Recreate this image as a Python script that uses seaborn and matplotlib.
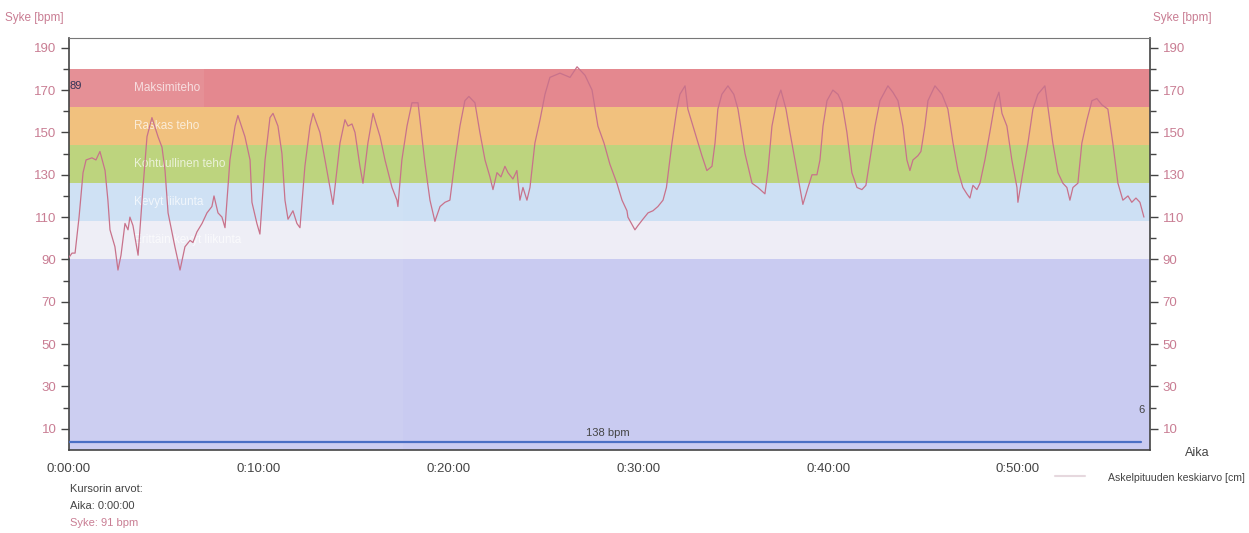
import numpy as np
import pandas as pd
import matplotlib
matplotlib.use("Agg")
import matplotlib.pyplot as plt
import matplotlib.ticker as mticker
from matplotlib.lines import Line2D
import seaborn as sns

# Sykekäyrä (aika minuutteina, syke bpm) luettu kuvasta
aika_min = [0.0, 0.16, 0.32, 0.53, 0.74, 0.9, 1.21, 1.42, 1.63, 1.9, 2.05, 2.16, 2.42, 2.58, 2.74,
            2.95, 3.11, 3.21, 3.37, 3.64, 3.9, 4.11, 4.37, 4.69, 4.9, 5.06, 5.22, 5.58, 5.85, 6.11,
            6.38, 6.53, 6.74, 7.01, 7.27, 7.53, 7.64, 7.85, 8.06, 8.22, 8.48, 8.75, 8.9, 9.27, 9.54,
            9.64, 9.9, 10.06, 10.33, 10.59, 10.75, 11.01, 11.22, 11.38, 11.54, 11.8, 12.01, 12.17,
            12.43, 12.7, 12.86, 13.22, 13.49, 13.75, 13.91, 14.28, 14.54, 14.7, 14.91, 15.07, 15.33,
            15.49, 15.75, 16.02, 16.39, 16.65, 17.02, 17.28, 17.33, 17.54, 17.81, 18.07, 18.39, 18.76,
            18.91, 19.02, 19.28, 19.55, 19.81, 20.07, 20.34, 20.6, 20.86, 21.07, 21.39, 21.65, 21.92,
            22.18, 22.34, 22.55, 22.76, 22.97, 23.13, 23.39, 23.6, 23.76, 23.92, 24.13, 24.29, 24.55,
            24.82, 25.08, 25.34, 25.87, 26.4, 26.77, 27.19, 27.56, 27.87, 28.19, 28.5, 28.87, 29.14,
            29.4, 29.45, 29.82, 29.98, 30.24, 30.51, 30.77, 31.03, 31.3, 31.48, 31.77, 32.03, 32.19,
            32.46, 32.61, 32.98, 33.35, 33.61, 33.88, 34.04, 34.19, 34.4, 34.72, 35.03, 35.25, 35.62,
            35.99, 36.3, 36.67, 36.83, 37.04, 37.3, 37.51, 37.78, 37.99, 38.25, 38.51, 38.67, 38.94,
            39.15, 39.41, 39.57, 39.73, 39.94, 40.25, 40.52, 40.73, 40.99, 41.25, 41.52, 41.78, 41.99,
            42.2, 42.47, 42.73, 43.15, 43.41, 43.68, 43.94, 44.15, 44.31, 44.47, 44.73, 44.89, 45.1,
            45.26, 45.63, 46.0, 46.31, 46.58, 46.84, 47.1, 47.31, 47.47, 47.63, 47.84, 48.0, 48.26,
            48.52, 48.79, 49.0, 49.16, 49.42, 49.68, 49.95, 50.0, 50.26, 50.53, 50.79, 51.05, 51.42,
            51.58, 51.84, 52.11, 52.37, 52.58, 52.74, 52.9, 53.16, 53.37, 53.64, 53.9, 54.16, 54.43,
            54.74, 55.0, 55.27, 55.53, 55.8, 56.0, 56.22, 56.43, 56.64]
syke = [91, 93, 93, 110, 131, 137, 138, 137, 141, 132, 118, 104, 96, 85, 92,
        107, 104, 110, 106, 92, 124, 148, 157, 148, 143, 132, 112, 96, 85, 96,
        99, 98, 103, 107, 112, 115, 120, 112, 110, 105, 137, 153, 158, 148, 137,
        117, 107, 102, 137, 157, 159, 153, 140, 118, 109, 113, 107, 105,
        134, 153, 159, 150, 137, 124, 116, 145, 156, 153, 154, 150, 134,
        126, 145, 159, 148, 137, 124, 118, 115, 137, 153, 164, 164, 135,
        125, 118, 108, 115, 117, 118, 137, 153, 165, 167, 164, 150, 137,
        129, 123, 131, 129, 134, 131, 128, 132, 118, 124, 118, 124, 145,
        156, 168, 176, 178, 176, 181, 177, 170, 153, 145, 135, 126, 118,
        113, 110, 104, 106, 109, 112, 113, 115, 118, 124, 145, 161, 168,
        172, 161, 150, 139, 132, 134, 145, 161, 168, 172, 168, 161, 140,
        126, 124, 121, 132, 153, 165, 170, 161, 150, 137, 124, 116, 124,
        130, 130, 137, 153, 165, 170, 168, 164, 150, 131, 124, 123, 125,
        137, 153, 165, 172, 169, 165, 153, 137, 132, 137, 139, 141, 153,
        165, 172, 168, 161, 145, 132, 124, 121, 119, 125, 123, 126, 137,
        150, 164, 169, 159, 153, 137, 124, 117, 131, 145, 161, 168, 172,
        162, 145, 131, 126, 124, 118, 124, 126, 145, 156, 165, 166, 163,
        161, 145, 126, 118, 120, 117, 119, 117, 110]

# Askelpituus (piirretty sykeasteikolla)
askel_aika = [0.0, 56.5]
askel_arvo = [3.8, 3.8]

# Sykealueet
alue_nimet = ["Erittäin kevyt liikunta", "Kevyt liikunta", "Kohtuullinen teho", "Raskas teho", "Maksimiteho"]
alue_rajat = [90, 108, 126, 144, 162, 180]
alue_varit = ["#eeedf6", "#cde0f4", "#bdd47e", "#f1c17e", "#e4888f"]

df = pd.DataFrame({"aika": aika_min, "syke": syke})
df_askel = pd.DataFrame({"aika": askel_aika, "arvo": askel_arvo})

sns.set_style("white")
plt.rcParams["font.family"] = ["Liberation Sans Narrow", "Liberation Sans", "DejaVu Sans"]

pink = "#c97d93"
dark = "#444444"

fig = plt.figure(figsize=(12.49, 5.33), dpi=100)
ax = fig.add_axes([69 / 1249, 1 - 450 / 533, (1150 - 69) / 1249, (450 - 38) / 533])

x_max = 56.96
ax.set_xlim(0, x_max)
ax.set_ylim(0, 194.6)

# taustavärit
ax.axhspan(0, alue_rajat[0], color="#c9cbf1", zorder=0, lw=0)
for i in range(len(alue_nimet)):
    ax.axhspan(alue_rajat[i], alue_rajat[i + 1], color=alue_varit[i], zorder=0, lw=0)
# vaaleampi alue vasemmalla
ax.fill_between([0, 17.6], 0, 126, color="white", alpha=0.06, lw=0, zorder=0.5)
ax.fill_between([0, 7.1], 162, 180, color="white", alpha=0.07, lw=0, zorder=0.5)

for i, nimi in enumerate(alue_nimet):
    yc = (alue_rajat[i] + alue_rajat[i + 1]) / 2
    ax.text(3.4, yc, nimi, color="white", alpha=0.7, fontsize=8.5, va="center", ha="left", zorder=1)

sns.lineplot(data=df, x="aika", y="syke", ax=ax, color="#c8728b", lw=0.9, zorder=3)
sns.lineplot(data=df_askel, x="aika", y="arvo", ax=ax, color="#4a6fc4", lw=1.6, zorder=3)

ax.text(28.4, 5.5, "138 bpm", fontsize=8, color=dark, ha="center", va="bottom")
ax.text(0.05, 172, "89", fontsize=8, color="#333355", ha="left", va="center")
ax.text(56.7, 19, "6", fontsize=8, color=dark, ha="right", va="center")

ax.set_xlabel("")
ax.set_ylabel("")

# x-akseli
def fmt_aika(x, pos):
    s = int(round(x * 60))
    return f"{s // 3600}:{(s % 3600) // 60:02d}:{s % 60:02d}"

ax.xaxis.set_major_locator(mticker.FixedLocator([0, 10, 20, 30, 40, 50]))
ax.xaxis.set_minor_locator(mticker.FixedLocator([5, 15, 25, 35, 45, 55]))
ax.xaxis.set_major_formatter(mticker.FuncFormatter(fmt_aika))
ax.yaxis.set_major_locator(mticker.FixedLocator(list(range(10, 191, 20))))
ax.yaxis.set_minor_locator(mticker.FixedLocator(list(range(20, 181, 20))))

ax.tick_params(axis="x", which="major", direction="out", length=6, width=1.2, color=dark,
               labelcolor=dark, labelsize=9.5, pad=3)
ax.tick_params(axis="x", which="minor", direction="out", length=5, width=1.2, color=dark)
ax.tick_params(axis="y", which="major", direction="out", length=6, width=1.0, color=dark,
               labelcolor=pink, labelsize=9.5, pad=3)
ax.tick_params(axis="y", which="minor", direction="out", length=4, width=1.0, color=dark)

for s in ["left", "bottom"]:
    ax.spines[s].set_color(dark)
    ax.spines[s].set_linewidth(1.2)
ax.spines["top"].set_color("#777777")
ax.spines["top"].set_linewidth(0.8)
ax.spines["right"].set_color(dark)
ax.spines["right"].set_linewidth(1.2)

ax2 = ax.twinx()
ax2.set_ylim(ax.get_ylim())
ax2.yaxis.set_major_locator(mticker.FixedLocator(list(range(10, 191, 20))))
ax2.yaxis.set_minor_locator(mticker.FixedLocator(list(range(20, 181, 20))))
ax2.tick_params(axis="y", which="major", direction="out", length=6, width=1.0, color=dark,
                labelcolor=pink, labelsize=9.5, pad=3)
ax2.tick_params(axis="y", which="minor", direction="out", length=4, width=1.0, color=dark)
for s in ax2.spines.values():
    s.set_visible(False)

# tekstit kuvan reunoilla
fig.text(5 / 1249, 1 - 18 / 533, "Syke [bpm]", color=pink, fontsize=8.5, va="center", ha="left")
fig.text(1153 / 1249, 1 - 18 / 533, "Syke [bpm]", color=pink, fontsize=8.5, va="center", ha="left")
fig.text(1185 / 1249, 1 - 453 / 533, "Aika", color=dark, fontsize=9, va="center", ha="left")
fig.text(1245 / 1249, 1 - 478 / 533, "Askelpituuden keskiarvo [cm]", color=dark, fontsize=7.6,
         va="center", ha="right")
fig.add_artist(Line2D([1055 / 1249, 1085 / 1249], [1 - 476 / 533, 1 - 476 / 533],
                      color="#e6d8de", lw=1.5))
fig.text(70 / 1249, 1 - 489 / 533, "Kursorin arvot:", color=dark, fontsize=8, va="center")
fig.text(70 / 1249, 1 - 506 / 533, "Aika: 0:00:00", color=dark, fontsize=8, va="center")
fig.text(70 / 1249, 1 - 523 / 533, "Syke: 91 bpm", color=pink, fontsize=8, va="center")

fig.savefig("out.png", dpi=100)
